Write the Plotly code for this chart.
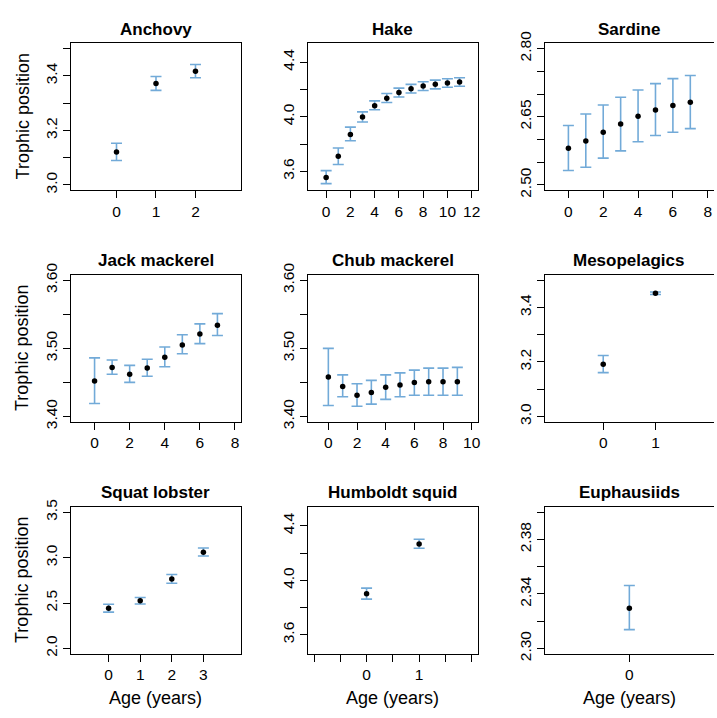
import plotly.graph_objects as go

W, H = 717, 718

# ---------------- data ----------------
species = ["Anchovy", "Hake", "Sardine", "Jack mackerel", "Chub mackerel",
           "Mesopelagics", "Squat lobster", "Humboldt squid", "Euphausiids"]

anchovy_age = [0, 1, 2]
anchovy_tp = [3.121, 3.372, 3.417]
anchovy_lo = [3.090, 3.347, 3.393]
anchovy_hi = [3.153, 3.398, 3.442]

hake_age = [0, 1, 2, 3, 4, 5, 6, 7, 8, 9, 10, 11]
hake_tp = [3.555, 3.710, 3.871, 3.998, 4.081, 4.136, 4.179, 4.205, 4.226, 4.238, 4.248, 4.255]
hake_lo = [3.510, 3.650, 3.824, 3.962, 4.052, 4.105, 4.145, 4.174, 4.193, 4.205, 4.217, 4.224]
hake_hi = [3.605, 3.771, 3.924, 4.036, 4.117, 4.171, 4.210, 4.238, 4.257, 4.269, 4.279, 4.286]

sardine_age = [0, 1, 2, 3, 4, 5, 6, 7]
sardine_tp = [2.581, 2.597, 2.616, 2.634, 2.651, 2.665, 2.675, 2.682]
sardine_lo = [2.532, 2.539, 2.559, 2.575, 2.595, 2.609, 2.616, 2.624]
sardine_hi = [2.631, 2.656, 2.676, 2.693, 2.709, 2.723, 2.734, 2.741]

jack_age = [0, 1, 2, 3, 4, 5, 6, 7]
jack_tp = [3.452, 3.472, 3.462, 3.471, 3.487, 3.505, 3.521, 3.534]
jack_lo = [3.419, 3.462, 3.450, 3.459, 3.473, 3.492, 3.507, 3.519]
jack_hi = [3.486, 3.483, 3.475, 3.484, 3.502, 3.520, 3.536, 3.551]

chub_age = [0, 1, 2, 3, 4, 5, 6, 7, 8, 9]
chub_tp = [3.458, 3.444, 3.431, 3.435, 3.443, 3.446, 3.450, 3.451, 3.451, 3.451]
chub_lo = [3.416, 3.429, 3.415, 3.418, 3.425, 3.429, 3.431, 3.431, 3.431, 3.431]
chub_hi = [3.500, 3.461, 3.448, 3.453, 3.461, 3.464, 3.468, 3.471, 3.471, 3.472]

meso_age = [0, 1]
meso_tp = [3.192, 3.452]
meso_lo = [3.161, 3.448]
meso_hi = [3.224, 3.457]

squat_age = [0, 1, 2, 3]
squat_tp = [2.443, 2.525, 2.764, 3.061]
squat_lo = [2.400, 2.489, 2.718, 3.018]
squat_hi = [2.486, 2.561, 2.814, 3.107]

squid_age = [0, 1]
squid_tp = [3.902, 4.267]
squid_lo = [3.862, 4.236]
squid_hi = [3.943, 4.302]

euph_age = [0]
euph_tp = [2.3295]
euph_lo = [2.3138]
euph_hi = [2.3462]

# tick values / labels
anchovy_xt = [0, 1, 2];            anchovy_xl = ["0", "1", "2"]
hake_xt = [0, 2, 4, 6, 8, 10, 12]; hake_xl = [str(v) for v in hake_xt]
sardine_xt = [0, 2, 4, 6, 8];      sardine_xl = [str(v) for v in sardine_xt]
jack_xt = [0, 2, 4, 6, 8];         jack_xl = [str(v) for v in jack_xt]
chub_xt = [0, 2, 4, 6, 8, 10];     chub_xl = [str(v) for v in chub_xt]
meso_xt = [0, 1];                  meso_xl = ["0", "1"]
squat_xt = [0, 1, 2, 3];           squat_xl = ["0", "1", "2", "3"]
squid_xt = [-1, -0.5, 0, 0.5, 1, 1.5, 2]; squid_xl = ["", "", "0", "", "1", "", ""]
euph_xt = [0];                     euph_xl = ["0"]

anchovy_yt = [3.0, 3.1, 3.2, 3.3, 3.4, 3.5]; anchovy_yl = ["3.0", "", "3.2", "", "3.4", ""]
hake_yt = [3.6, 3.8, 4.0, 4.2, 4.4];         hake_yl = ["3.6", "", "4.0", "", "4.4"]
sardine_yt = [2.50, 2.55, 2.60, 2.65, 2.70, 2.75, 2.80]; sardine_yl = ["2.50", "", "", "2.65", "", "", "2.80"]
jack_yt = [3.40, 3.45, 3.50, 3.55, 3.60];    jack_yl = ["3.40", "", "3.50", "", "3.60"]
chub_yt = [3.40, 3.45, 3.50, 3.55, 3.60];    chub_yl = ["3.40", "", "3.50", "", "3.60"]
meso_yt = [3.0, 3.1, 3.2, 3.3, 3.4, 3.5];    meso_yl = ["3.0", "", "3.2", "", "3.4", ""]
squat_yt = [2.0, 2.5, 3.0, 3.5];             squat_yl = ["2.0", "2.5", "3.0", "3.5"]
squid_yt = [3.6, 3.8, 4.0, 4.2, 4.4];        squid_yl = ["3.6", "", "4.0", "", "4.4"]
euph_yt = [2.30, 2.32, 2.34, 2.36, 2.38, 2.40]; euph_yl = ["2.30", "", "2.34", "", "2.38", ""]

# axis limits (R-style, expanded by 4%)
xlims = [(-1, 3), (-1, 12), (-1, 8), (-1, 8), (-1, 10), (-1, 2), (-1, 4), (-1, 2), (-1, 1)]
ylims = [(3.0, 3.5), (3.5, 4.5), (2.5, 2.8), (3.4, 3.6), (3.4, 3.6), (3.0, 3.5), (2.0, 3.5), (3.5, 4.5), (2.3, 2.4)]

panels = [
    (anchovy_age, anchovy_tp, anchovy_lo, anchovy_hi, anchovy_xt, anchovy_xl, anchovy_yt, anchovy_yl),
    (hake_age, hake_tp, hake_lo, hake_hi, hake_xt, hake_xl, hake_yt, hake_yl),
    (sardine_age, sardine_tp, sardine_lo, sardine_hi, sardine_xt, sardine_xl, sardine_yt, sardine_yl),
    (jack_age, jack_tp, jack_lo, jack_hi, jack_xt, jack_xl, jack_yt, jack_yl),
    (chub_age, chub_tp, chub_lo, chub_hi, chub_xt, chub_xl, chub_yt, chub_yl),
    (meso_age, meso_tp, meso_lo, meso_hi, meso_xt, meso_xl, meso_yt, meso_yl),
    (squat_age, squat_tp, squat_lo, squat_hi, squat_xt, squat_xl, squat_yt, squat_yl),
    (squid_age, squid_tp, squid_lo, squid_hi, squid_xt, squid_xl, squid_yt, squid_yl),
    (euph_age, euph_tp, euph_lo, euph_hi, euph_xt, euph_xl, euph_yt, euph_yl),
]

# ---------------- layout geometry (pixels) ----------------
col_px = [(71, 242.3), (309, 480), (547, 717)]
row_px = [(32, 183.3), (270, 421), (508.3, 659.3)]

ERR_COLOR = "#72aad8"
FONT = "Liberation Sans, Arial, Helvetica, sans-serif"

def expand(lim):
    a, b = lim
    d = (b - a) * 0.04
    return [a - d, b + d]

fig = go.Figure()
layout = dict(
    width=W, height=H, margin=dict(l=0, r=0, t=0, b=0),
    paper_bgcolor="white", plot_bgcolor="white", showlegend=False,
    font=dict(family=FONT, color="black"),
)
annotations = []

for i, (age, tp, lo, hi, xt, xl, yt, yl) in enumerate(panels):
    r, c = divmod(i, 3)
    n = i + 1
    xa = "x" if n == 1 else f"x{n}"
    ya = "y" if n == 1 else f"y{n}"
    fig.add_trace(go.Scatter(
        x=age, y=tp, mode="markers", xaxis=xa, yaxis=ya,
        marker=dict(color="black", size=5.5),
        error_y=dict(type="data", symmetric=False,
                     array=[h - m for h, m in zip(hi, tp)],
                     arrayminus=[m - l for m, l in zip(tp, lo)],
                     color=ERR_COLOR, thickness=1.6, width=5.5),
    ))
    x0, x1 = col_px[c]
    y0, y1 = row_px[r]
    axcommon = dict(showline=True, linecolor="black", linewidth=1,
                    showgrid=False, zeroline=False, ticks="outside", ticklen=7,
                    tickwidth=1, tickcolor="black",
                    tickfont=dict(size=15.5, family=FONT, color="black"))
    layout[f"xaxis{n if n > 1 else ''}"] = dict(
        axcommon, mirror=True, domain=[x0 / W, x1 / W], anchor=ya, range=expand(xlims[i]),
        tickmode="array", tickvals=xt, ticktext=xl)
    layout[f"yaxis{n if n > 1 else ''}"] = dict(
        axcommon, mirror=(c != 2), domain=[1 - y1 / H, 1 - y0 / H], anchor=xa,
        range=expand(ylims[i]),
        tickmode="array", tickvals=yt, ticktext=yl, tickangle=-90)
    # panel title
    annotations.append(dict(
        text=f"<b>{species[i]}</b>", xref="paper", yref="paper",
        x=(x0 + x1) / 2 / W, y=1 - (y0 - 14.3) / H, xanchor="center", yanchor="middle",
        showarrow=False, font=dict(size=17, family=FONT, color="black")))
    if c == 0:
        annotations.append(dict(
            text="Trophic position", xref="paper", yref="paper",
            x=22.7 / W, y=1 - ((y0 + y1) / 2) / H, xanchor="center", yanchor="middle",
            textangle=-90, showarrow=False, font=dict(size=18, family=FONT, color="black")))
    if r == 2:
        annotations.append(dict(
            text="Age (years)", xref="paper", yref="paper",
            x=(x0 + x1) / 2 / W, y=1 - 705 / H, xanchor="center", yanchor="middle",
            showarrow=False, font=dict(size=18, family=FONT, color="black")))

layout["annotations"] = annotations
fig.update_layout(**layout)
fig.write_html("out.html")
